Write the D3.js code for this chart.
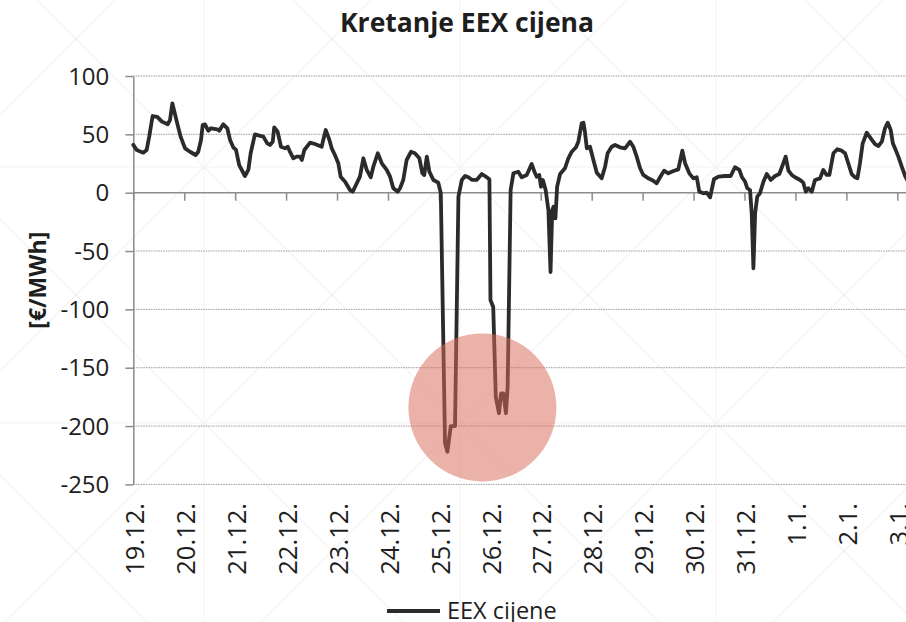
<!DOCTYPE html>
<html>
<head>
<meta charset="utf-8">
<script src="https://cdn.jsdelivr.net/npm/d3@7"></script>
<style>
html,body{margin:0;padding:0;background:#fff;}
svg{display:block;}
text{font-family:"Open Sans","Noto Sans",sans-serif;fill:#1e1e1e;}
</style>
</head>
<body>
<script>
// ---- data (hours from 19.12. 00:00, price in EUR/MWh) ----
const hours = [0,1.6,4.7,6.3,7.5,9.1,11.3,13.5,16.2,17.3,18.4,20.5,22.3,24.4,26.7,29.4,30.6,31.9,32.7,33.8,35.3,36.6,39.6,40.5,42.4,44.3,45.6,47.1,48.4,49.9,52.6,54.2,55.3,57.3,59.4,61.3,63.1,64.4,65.7,66.4,68.0,69.6,71.5,72.8,73.8,75.4,77.0,78.6,79.4,80.6,83.3,85.6,88.8,89.5,90.7,92.4,93.5,95.0,96.6,97.7,99.8,102.1,103.4,104.5,106.8,108.4,110.0,111.9,113.1,115.2,117.1,119.4,121.0,122.5,124.6,125.7,127.2,128.8,130.9,132.7,134.8,136.2,137.1,138.3,139.5,141.4,143.7,144.9,146.9,148.0,149.6,151.6,153.2,154.8,156.3,157.9,159.7,161.8,164.2,165.7,167.8,168.3,169.6,170.8,172.3,173.3,174.4,175.6,176.4,177.8,179.1,181.4,183.0,185.4,187.7,189.0,190.1,191.3,192.1,193.0,194.3,195.6,196.6,197.4,198.0,198.9,199.7,201.1,203.4,205.0,206.6,208.6,209.7,211.3,212.1,212.8,213.7,215.2,216.8,218.4,220.7,222.3,223.5,225.4,227.0,229.3,231.7,234.1,235.6,237.2,238.8,240.3,242.7,245.0,246.6,248.2,250.1,252.1,254.5,256.8,258.7,260.0,262.0,263.9,265.5,266.7,268.6,270.2,271.8,273.6,275.7,278.8,281.5,283.5,285.6,286.7,288.3,289.3,290.6,291.4,292.2,293.0,294.0,295.3,296.9,298.5,300.4,302.4,304.4,306.3,307.4,308.7,310.3,311.8,314.2,315.7,316.9,318.1,319.7,321.2,323.6,325.1,326.7,328.0,329.9,331.7,333.8,335.4,336.9,338.5,340.1,341.2,342.4,343.7,345.6,347.5,349.5,351.1,352.7,354.2,355.5,356.9,357.9,358.9,360.5,362.1,363.7,365.5];
const prices = [41,36.6,34.3,36.6,48,65.7,65,60.9,58.6,62.3,76.6,60.9,48,38,35.1,32.3,35.1,45.2,58,58.6,53.1,55.2,54.3,53.1,58.6,55.2,45.2,38.9,36.6,23.7,14.3,19.5,33.8,50,48.9,48,42.3,40.9,43.7,56,52.3,39.4,38,39.4,35.1,29.5,30.9,30.9,28,36.6,42.9,41.7,39.4,45.2,53.7,45.2,38,32.3,25.2,13.7,9.4,2.3,0.9,5.1,13.7,29.5,19.5,13.2,22.3,33.8,25.2,19.5,13.7,3.8,0.9,3.8,10.9,28,35.1,33.8,29.5,16.6,15.2,30.9,18,10.9,8.6,-0.5,-215,-222,-200,-200,-3.4,10.9,14.3,13.2,10.9,10.9,16,14.3,11.5,-92,-98,-175,-189,-172,-172,-189,-166,2.3,16.6,18,13.2,15.2,24.6,18,13.7,15.2,5.1,10.9,2.3,-15,-68,-15,-12,-22,5,16,20.9,29.5,35.1,38.9,43.7,59.5,60,52.3,38,39.4,28,17.1,12.3,22.3,33.8,39.4,40.9,38.9,38,43.7,39.4,30.9,20.9,15.2,12.3,10.3,8,13.2,18.9,16.6,18.6,20,36,25.2,16.6,12.3,13.2,0.9,-0.5,0,-4,11.5,13.7,14.3,14.3,21.8,19.5,13.7,9.4,3.8,2.3,-17.7,-64.8,-17.7,-3.4,-0.5,9.4,16,10.9,14.3,16,25.2,30.9,18.9,15.2,13.2,10.9,8.6,0.9,3.8,0.9,10.9,12.3,19.5,15.2,15.2,33.8,37.2,36,33.8,25.2,16,13.2,12.3,25.2,42.3,51.4,46.6,41.7,40,43.7,55.2,60,53.7,42.3,38,30.9,22.3,14.3,8];
const dayLabels = ["19.12.","20.12.","21.12.","22.12.","23.12.","24.12.","25.12.","26.12.","27.12.","28.12.","29.12.","30.12.","31.12.","1.1.","2.1.","3.1."];
const yTicks = [100,50,0,-50,-100,-150,-200,-250];
const highlightHour = [164.5];
const highlightPrice = [-184];
const title = "Kretanje EEX cijena";
const yTitle = "[€/MWh]";
const seriesName = "EEX cijene";

const W = 906, H = 622;
const svg = d3.select("body").append("svg").attr("width", W).attr("height", H);

// faint background watermark
const wm = svg.append("g").attr("stroke", "#ededed").attr("stroke-width", 1);
for (let k = -4; k <= 6; k++) {
  const c1 = 37 + 256 * k, c2 = 371 + 256 * k;
  wm.append("line").attr("x1", c1).attr("y1", 0).attr("x2", c1 + H).attr("y2", H);
  wm.append("line").attr("x1", c2).attr("y1", 0).attr("x2", c2 - H).attr("y2", H);
}
const wm2 = svg.append("g").attr("stroke", "#f3f3f3").attr("stroke-width", 1);
[204, 460, 716].forEach(v => wm2.append("line").attr("x1", v).attr("x2", v).attr("y1", 0).attr("y2", H));
[167, 423].forEach(v => wm2.append("line").attr("y1", v).attr("y2", v).attr("x1", 0).attr("x2", W));

const x = d3.scaleLinear().domain([0, 360]).range([133.3, 897.3]);
const y = d3.scaleLinear().domain([-250, 100]).range([484.4, 76]);

// gridlines
svg.append("g").selectAll("line").data(yTicks.filter(d => d !== 0)).join("line")
  .attr("x1", x(0)).attr("x2", W).attr("y1", d => y(d)).attr("y2", d => y(d))
  .attr("stroke", "#9a9a9a").attr("stroke-width", 1).attr("stroke-dasharray", "1.5,1");

// y axis
const yAxis = svg.append("g").attr("transform", `translate(${x(0)},0)`)
  .call(d3.axisLeft(y).tickValues(yTicks).tickSize(8).tickSizeOuter(0).tickPadding(16).tickFormat(d => String(d)));
yAxis.select(".domain").attr("stroke", "#8c8c8c").attr("stroke-width", 1.5);
yAxis.selectAll(".tick line").attr("stroke", "#8c8c8c").attr("stroke-width", 1.5);
yAxis.selectAll(".tick text").attr("font-size", 24).attr("fill", "#1e1e1e")
  .attr("font-family", '"Open Sans", sans-serif').attr("dy", "0.34em");

// x axis (at zero line)
const dayTicks = dayLabels.map((_, i) => i * 24);
const xAxis = svg.append("g").attr("transform", `translate(0,${y(0)})`)
  .call(d3.axisBottom(x).tickValues(dayTicks).tickSize(8).tickSizeOuter(0).tickFormat(""));
xAxis.select(".domain").remove();
xAxis.selectAll(".tick line").attr("stroke", "#8c8c8c").attr("stroke-width", 1.5);
svg.append("line").attr("x1", x(0)).attr("x2", W).attr("y1", y(0)).attr("y2", y(0))
  .attr("stroke", "#8c8c8c").attr("stroke-width", 1.5);

// rotated day labels
svg.append("g").selectAll("text").data(dayLabels).join("text")
  .attr("transform", (d, i) => `translate(${x(i * 24) + 1.5},${503}) rotate(-90)`)
  .attr("text-anchor", "end").attr("dy", "0.36em").attr("font-size", 25.5).text(d => d);

// line
const pts = hours.map((h, i) => [h, prices[i]]);
const line = d3.line().x(d => x(d[0])).y(d => y(d[1]));
svg.append("path").datum(pts).attr("d", line).attr("fill", "none")
  .attr("stroke", "#2b2b2b").attr("stroke-width", 3.8).attr("stroke-linejoin", "round").attr("stroke-linecap", "round");

// highlight circle (semi-transparent overlay above the line)
svg.append("g").selectAll("circle").data(highlightHour).join("circle")
  .attr("cx", d => x(d)).attr("cy", (d, i) => y(highlightPrice[i])).attr("r", 74)
  .attr("fill", "rgb(214,108,88)").attr("fill-opacity", 0.52);

// title
svg.append("text").attr("x", 467).attr("y", 32).attr("text-anchor", "middle")
  .attr("font-size", 26.5).attr("font-weight", "bold").attr("fill", "#262626").text(title);

// y title
svg.append("text").attr("transform", `translate(38,${(y(100) + y(-250)) / 2}) rotate(-90)`)
  .attr("text-anchor", "middle").attr("dy", "0.36em").attr("font-size", 23).attr("font-weight", "bold").text(yTitle);

// legend
svg.append("line").attr("x1", 387).attr("x2", 440).attr("y1", 611).attr("y2", 611)
  .attr("stroke", "#2b2b2b").attr("stroke-width", 3.8);
svg.append("text").attr("x", 447).attr("y", 619).attr("font-size", 23.5).text(seriesName);
</script>
</body>
</html>
